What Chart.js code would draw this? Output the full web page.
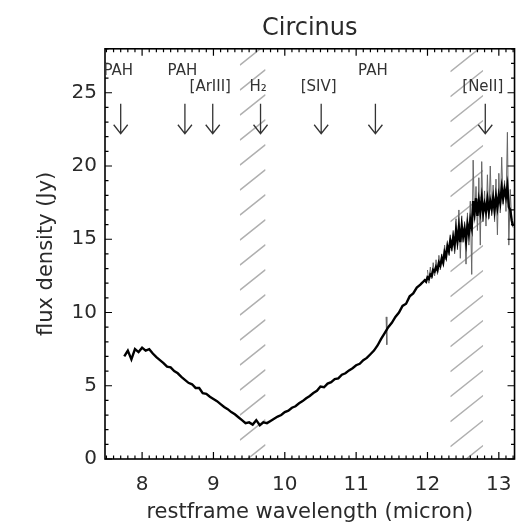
<!DOCTYPE html>
<html><head><meta charset="utf-8">
<script src="https://cdn.jsdelivr.net/npm/chart.js@4/dist/chart.umd.min.js"></script>
<style>html,body{margin:0;padding:0;background:#fff;}</style>
</head><body>
<canvas id="c" width="526" height="523"></canvas>
<script>
// ---- data ----
const wavelength = [
 7.75,7.80,7.85,7.90,7.95,8.00,8.05,8.10,8.15,8.20,8.25,8.30,8.35,8.40,8.45,8.50,
 8.55,8.60,8.65,8.70,8.75,8.80,8.85,8.90,8.95,9.00,9.05,9.10,9.15,9.20,9.25,9.30,
 9.35,9.40,9.45,9.50,9.55,9.60,9.65,9.70,9.75,9.80,9.85,9.90,9.95,10.00,10.05,10.10,
 10.15,10.20,10.25,10.30,10.35,10.40,10.45,10.50,10.55,10.60,10.65,10.70,10.75,10.80,10.85,10.90,
 10.95,11.00,11.05,11.10,11.15,11.20,11.25,11.30,11.35,11.40,11.45,11.50,11.55,11.60,11.65,11.70,
 11.75,11.80,11.85,11.90,
 11.92,11.94,11.96,11.98,12.00,12.02,12.04,12.06,12.08,12.10,12.12,12.14,12.16,12.18,12.20,12.22,
 12.24,12.26,12.28,12.30,12.32,12.34,12.36,12.38,12.40,12.42,12.44,12.46,12.48,12.50,12.52,12.54,
 12.56,12.58,12.60,12.62,12.64,12.66,12.68,12.70,12.72,12.74,12.76,12.78,12.80,12.82,12.84,12.86,
 12.88,12.90,12.92,12.94,12.96,12.98,13.00,13.02,13.04,13.06,13.08,13.10,13.12,13.14,13.16,13.18,13.20
];
const flux = [
 7.0,7.4,6.8,7.5,7.3,7.6,7.4,7.5,7.2,6.95,6.75,6.55,6.3,6.25,6.0,5.85,
 5.6,5.4,5.2,5.1,4.85,4.85,4.5,4.45,4.25,4.1,3.95,3.75,3.55,3.4,3.2,3.05,
 2.85,2.65,2.45,2.5,2.35,2.65,2.3,2.5,2.45,2.6,2.75,2.9,3.0,3.2,3.3,3.5,
 3.6,3.8,3.95,4.15,4.3,4.5,4.65,4.95,4.9,5.15,5.25,5.45,5.5,5.75,5.85,6.05,
 6.2,6.4,6.5,6.75,6.9,7.15,7.4,7.75,8.2,8.6,9.0,9.3,9.7,10.0,10.45,10.6,
 11.1,11.3,11.7,11.9,
 12.0,12.1,12.2,12.1,12.4,12.3,12.6,12.5,12.9,12.8,13.1,12.9,13.4,13.2,13.7,13.4,
 14.1,13.8,14.5,14.2,14.9,14.5,15.1,14.6,15.6,14.9,15.8,14.8,15.9,15.2,15.7,14.9,
 16.0,15.4,16.3,15.8,17.6,16.8,17.8,16.6,17.6,16.9,17.8,16.8,17.4,16.9,17.7,16.9,
 17.6,17.1,17.8,17.0,17.9,17.2,18.0,17.5,18.5,17.8,18.4,17.9,18.6,17.2,17.0,16.3,15.9
];
// noisy excursions (grey spikes); null breaks the trace
const noiseWavelength = [
 11.42,11.43,11.44,
 12.00,12.02,12.04,12.06,12.08,12.10,12.12,12.14,12.16,12.18,
 12.20,12.22,12.24,12.26,12.28,12.30,12.32,12.34,12.36,12.38,12.40,12.42,12.44,12.46,12.48,12.50,
 12.52,12.54,12.56,12.58,12.60,12.62,12.64,12.66,12.68,12.70,12.72,12.74,12.76,12.78,12.80,12.82,
 12.84,12.86,12.88,12.90,12.92,12.94,12.96,12.98,13.00,13.02,13.04,13.06,13.08,13.10,13.12,13.14,
 13.16,13.18,13.20
];
const noiseFlux = [
 9.7,7.8,null,
 12.9,12.0,13.1,12.3,13.4,12.5,13.6,12.6,13.9,12.9,
 14.0,13.4,14.6,13.6,14.9,13.9,15.3,14.2,15.6,14.0,16.4,14.3,17.0,13.7,16.6,14.8,
 16.2,13.3,16.8,14.6,17.6,12.6,20.4,16.3,18.6,15.6,19.2,14.6,20.3,16.2,18.3,15.9,
 19.4,16.4,20.0,16.6,18.7,16.2,19.1,15.3,19.5,16.8,20.6,17.4,19.0,16.9,22.3,14.6,
 18.4,16.1,15.8
];
const xTickValues = [8, 9, 10, 11, 12, 13];
const yTickValues = [0, 5, 10, 15, 20, 25];
const lineWavelengths = [7.7, 8.6, 8.99, 9.66, 10.51, 11.27, 12.81];
const lineLabels = ['PAH', 'PAH', '[ArIII]', 'H\u2082', '[SIV]', 'PAH', '[NeII]'];
const lineLabelLevel = [26.5, 26.5, 25.4, 25.4, 25.4, 26.5, 25.4];
const arrowTopFlux = 24.25, arrowBottomFlux = 22.2;
const maskedBands = [[9.37, 9.73], [12.32, 12.78]];
const xRange = [7.48, 13.22];
const yRange = [0, 28];
const xMinorStep = 0.1, yMinorStep = 1;

// ---- styling ----
const FONT = "'DejaVu Sans', sans-serif";
const TXT = '#2a2a2a';

const decor = {
  id: 'decor',
  beforeDatasetsDraw(chart) {
    const {ctx, chartArea: a, scales: {x}} = chart;
    ctx.save();
    ctx.strokeStyle = '#b0b0b0';
    ctx.lineWidth = 1.5;
    const slope = 0.8, gap = 25, phase = 14;
    maskedBands.forEach(([w0, w1]) => {
      const x0 = x.getPixelForValue(w0), x1 = x.getPixelForValue(w1);
      ctx.save();
      ctx.beginPath(); ctx.rect(x0, a.top, x1 - x0, a.bottom - a.top); ctx.clip();
      ctx.beginPath();
      for (let k = -40; k < 40; k++) {
        const c = phase + gap * k;
        const ya = a.bottom + c - slope * (x0 - a.left);
        const yb = a.bottom + c - slope * (x1 - a.left);
        if (Math.max(ya, yb) < a.top - 5 || Math.min(ya, yb) > a.bottom + 5) continue;
        ctx.moveTo(x0, ya); ctx.lineTo(x1, yb);
      }
      ctx.stroke();
      ctx.restore();
    });
    ctx.restore();
  },
  afterDatasetsDraw(chart) {
    const {ctx, chartArea: a, scales: {x, y}} = chart;
    ctx.save();
    ctx.strokeStyle = '#000';
    ctx.lineWidth = 1.6;
    ctx.strokeRect(a.left, a.top, a.right - a.left, a.bottom - a.top);
    ctx.lineWidth = 1.2;
    ctx.beginPath();
    const majL = 7, minL = 3.5;
    for (let v = Math.ceil(xRange[0] / xMinorStep) * xMinorStep; v <= xRange[1] + 1e-9; v += xMinorStep) {
      const vr = Math.round(v * 10) / 10;
      const px = x.getPixelForValue(vr);
      const len = xTickValues.includes(vr) ? majL : minL;
      ctx.moveTo(px, a.bottom); ctx.lineTo(px, a.bottom - len);
      ctx.moveTo(px, a.top); ctx.lineTo(px, a.top + len);
    }
    for (let v = yRange[0]; v <= yRange[1] + 1e-9; v += yMinorStep) {
      const py = y.getPixelForValue(v);
      const len = yTickValues.includes(v) ? majL : minL;
      ctx.moveTo(a.left, py); ctx.lineTo(a.left + len, py);
      ctx.moveTo(a.right, py); ctx.lineTo(a.right - len, py);
    }
    ctx.stroke();
    ctx.strokeStyle = '#333';
    ctx.fillStyle = '#333';
    ctx.lineWidth = 1.3;
    ctx.font = '15px ' + FONT;
    ctx.textAlign = 'center';
    ctx.textBaseline = 'middle';
    lineWavelengths.forEach((w, i) => {
      const px = x.getPixelForValue(w);
      const yt = y.getPixelForValue(arrowTopFlux), yb = y.getPixelForValue(arrowBottomFlux);
      ctx.beginPath();
      ctx.moveTo(px, yt); ctx.lineTo(px, yb);
      ctx.moveTo(px - 7, yb - 9); ctx.lineTo(px, yb); ctx.lineTo(px + 7, yb - 9);
      ctx.stroke();
      ctx.fillText(lineLabels[i], px - 2.5, y.getPixelForValue(lineLabelLevel[i]));
    });
    ctx.restore();
  }
};

new Chart(document.getElementById('c'), {
  type: 'line',
  data: {
    datasets: [
      {
        data: wavelength.map((w, i) => ({x: w, y: flux[i]})),
        borderColor: '#000', borderWidth: 2.4, pointRadius: 0, tension: 0, fill: false, order: 1
      },
      {
        data: noiseWavelength.map((w, i) => ({x: w, y: noiseFlux[i]})),
        borderColor: '#666', borderWidth: 1, pointRadius: 0, tension: 0, fill: false,
        spanGaps: false, order: 2
      }
    ]
  },
  options: {
    responsive: false, animation: false, devicePixelRatio: 1,
    layout: {padding: {left: 0, right: 4, top: 0, bottom: 0}},
    plugins: {
      legend: {display: false}, tooltip: {enabled: false},
      title: {
        display: true, text: 'Circinus', fullSize: false, color: TXT,
        font: {family: FONT, size: 24, weight: 'normal', lineHeight: 1.2},
        padding: {top: 14, bottom: 6}
      }
    },
    scales: {
      x: {
        type: 'linear', min: xRange[0], max: xRange[1],
        afterBuildTicks: s => { s.ticks = xTickValues.map(v => ({value: v})); },
        afterFit: s => { s.height = 64; },
        grid: {display: false, drawTicks: false}, border: {display: false},
        ticks: {padding: 14, color: TXT, autoSkip: false, maxRotation: 0,
          font: {family: FONT, size: 20}, callback: v => String(v)},
        title: {display: true, text: 'restframe wavelength (micron)', color: TXT,
          font: {family: FONT, size: 21, lineHeight: 1}, padding: {top: 0, bottom: 0}}
      },
      y: {
        type: 'linear', min: yRange[0], max: yRange[1],
        afterBuildTicks: s => { s.ticks = yTickValues.map(v => ({value: v})); },
        afterFit: s => { s.width = 105; },
        grid: {display: false, drawTicks: false}, border: {display: false},
        ticks: {padding: 8, color: TXT, font: {family: FONT, size: 20}, callback: v => String(v)},
        title: {display: true, text: 'flux density (Jy)', color: TXT,
          font: {family: FONT, size: 21, lineHeight: 1.2}, padding: {top: 34, bottom: 0}}
      }
    }
  },
  plugins: [decor]
});
</script>
</body></html>
